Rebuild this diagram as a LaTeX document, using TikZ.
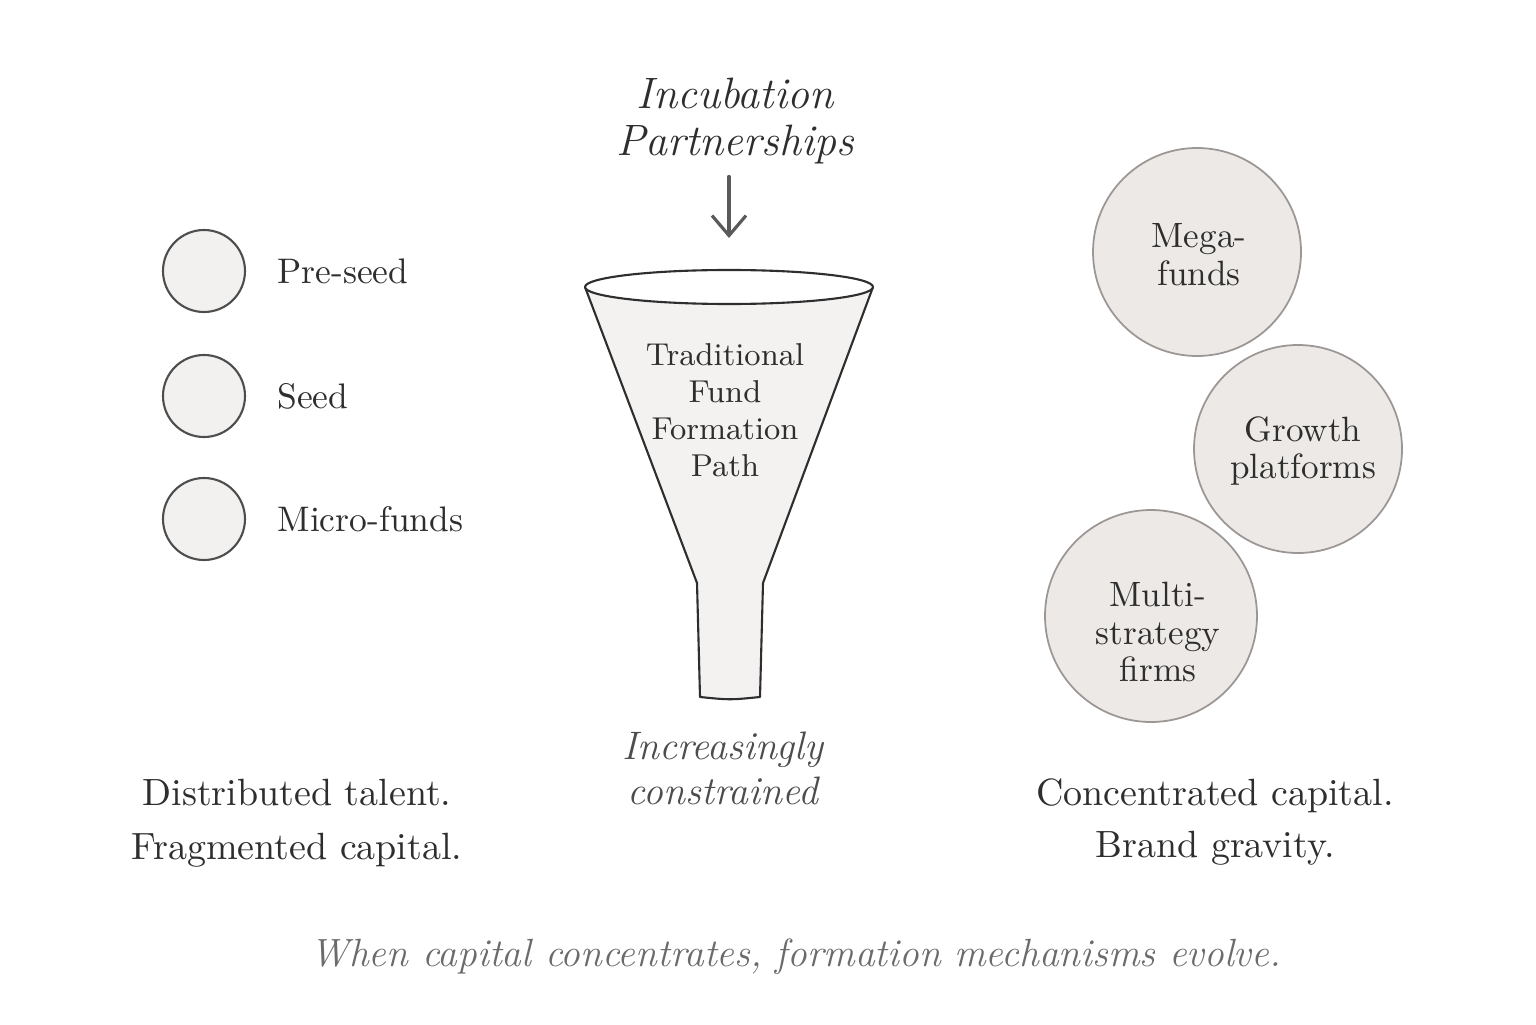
\documentclass[tikz,border=0pt]{standalone}
\usetikzlibrary{arrows.meta,positioning}
\definecolor{ink}{HTML}{2E2E2E}
\definecolor{dotfill}{HTML}{F3F1F0}
\definecolor{blobfill}{HTML}{ECE9E6}
\definecolor{blobline}{HTML}{9C9794}
\definecolor{cone}{HTML}{F4F2F1}
\definecolor{arrowgray}{HTML}{5A5A5A}
\definecolor{softgray}{HTML}{4D4D4D}
\definecolor{capgray}{HTML}{6B6B6B}
\begin{document}
\begin{tikzpicture}[>={Straight Barb[length=2mm,width=3.4mm]},line join=round,line cap=round,
dot/.style={circle,draw=ink!85,fill=dotfill,line width=0.6pt,minimum size=0.82cm,inner sep=0pt},
lbl/.style={anchor=west,text=ink,font=\fontsize{10.1}{12}\selectfont},
blob/.style={circle,draw=blobline,fill=blobfill,line width=0.5pt,minimum size=2.08cm,inner sep=0pt},
blobtxt/.style={align=center,text=ink,font=\fontsize{10}{10.8}\selectfont},
note/.style={align=center,text=ink,font=\fontsize{10.8}{15.4}\selectfont}]
\fill[white] (0,0) rectangle (15.36,10.24);
\useasboundingbox (0,0) rectangle (15.36,10.24);
\foreach \y/\n/\t in {7.53/a/Pre-seed,6.28/b/Seed,5.05/c/Micro-funds}
{
\node[dot] (c\n) at (2.04,\y) {};
\node[lbl,right=0.19cm of c\n] (l\n) {\t};
}
\node[note] (dist) at (2.97,2.01) {Distributed talent.\\Fragmented capital.};
\filldraw[draw=ink,fill=cone,line width=0.6pt] (5.85,7.37)--(6.97,4.41)--(7.00,3.27)
 .. controls (7.30,3.24) .. (7.60,3.27)--(7.63,4.41)--(8.73,7.37)--cycle;
\filldraw[draw=ink,fill=white,line width=0.6pt] (7.29,7.37) ellipse (1.44 and 0.17);
\coordinate (ftop) at (7.29,7.86);
\node[blobtxt,font=\fontsize{9}{10.5}\selectfont] (trad) at (7.25,6.14) {Traditional\\Fund\\Formation\\Path};
\node[align=center,text=ink,font=\itshape\fontsize{12.5}{13.4}\selectfont] (inc) at (7.35,9.03) {Incubation\\Partnerships};
\draw[->,arrowgray,line width=0.9pt] (inc.south -| ftop)--(ftop);
\node[align=center,text=softgray,font=\itshape\fontsize{11.3}{12.8}\selectfont] (con) at (7.23,2.56) {Increasingly\\constrained};
\node[blob] (mega) at (11.97,7.72) {};
\node[blob] (grow) at (12.98,5.75) {};
\node[blob,minimum size=2.12cm] (multi) at (11.51,4.08) {};
\node[blobtxt] at (11.99,7.69) {Mega-\\funds};
\node[blobtxt] at (13.03,5.73) {Growth\\platforms};
\node[blobtxt] at (11.58,3.92) {Multi-\\strategy\\firms};
\node[note,font=\fontsize{10.8}{15}\selectfont] (conc) at (12.15,2.02) {Concentrated capital.\\Brand gravity.};
\node[text=capgray,font=\itshape\fontsize{11.2}{14}\selectfont] (cap) at (7.96,0.67) {When capital concentrates, formation mechanisms evolve.};
\end{tikzpicture}
\end{document}
